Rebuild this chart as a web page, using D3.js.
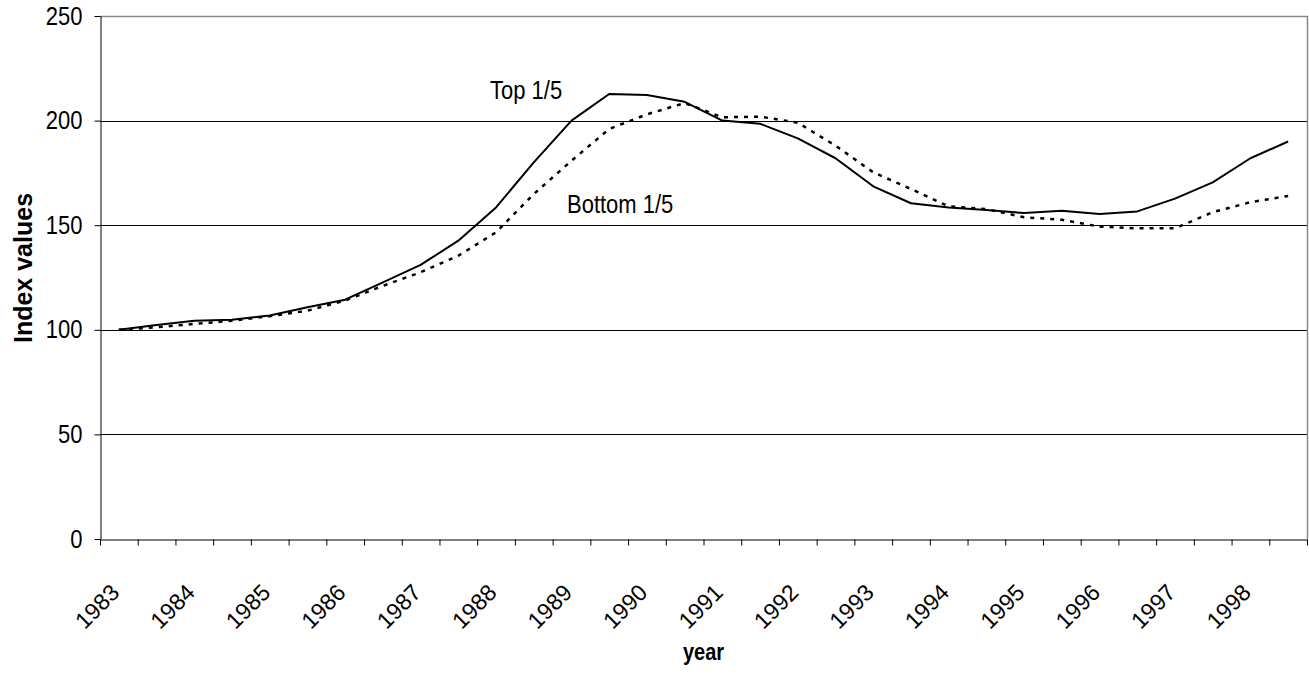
<!DOCTYPE html>
<html>
<head>
<meta charset="utf-8">
<script src="https://cdn.jsdelivr.net/npm/d3@7"></script>
<style>
  body { margin: 0; background: #fff; }
  svg { display: block; font-family: Arial, "Liberation Sans", sans-serif; }
</style>
</head>
<body>
<div id="chart"></div>
<script>
// half-year periods, one point per period
var periods = ['1983a', '1983b', '1984a', '1984b', '1985a', '1985b', '1986a', '1986b',
  '1987a', '1987b', '1988a', '1988b', '1989a', '1989b', '1990a', '1990b',
  '1991a', '1991b', '1992a', '1992b', '1993a', '1993b', '1994a', '1994b',
  '1995a', '1995b', '1996a', '1996b', '1997a', '1997b', '1998a', '1998b'];

var yearLabels = ['1983', '1984', '1985', '1986', '1987', '1988', '1989', '1990',
  '1991', '1992', '1993', '1994', '1995', '1996', '1997', '1998'];

var topFifth = [100, 102.3, 104.3, 104.8, 106.8, 110.8, 114.4, 122.7,
  131, 142.6, 158.5, 180, 200, 212.7, 212.2, 209,
  200, 198.5, 191.5, 182, 168.6, 160.5, 158.5, 157.3,
  155.8, 156.9, 155.4, 156.6, 162.7, 170.5, 182, 190];

var bottomFifth = [100, 101.2, 102.8, 104.3, 106.5, 109.1, 114, 121,
  127.5, 135.4, 146.6, 164.9, 180.8, 196, 203, 208.4,
  201.6, 201.9, 199, 188, 175.3, 167.3, 159, 157.7,
  153.8, 152.6, 149.3, 148.5, 148.5, 156.2, 161, 164];

var yTicks = [0, 50, 100, 150, 200, 250];
var gridValues = [50, 100, 150, 200];

var width = 1309, height = 681;
var plot = {left: 100, right: 1307, top: 16, bottom: 539};
// the source picture is a little taller than wide, so text gets stretched
var stretch = 1.15;

var svg = d3.select('#chart')
  .append('svg')
  .attr('width', width)
  .attr('height', height);

var x = d3.scaleBand()
  .domain(periods)
  .range([plot.left, plot.right])
  .padding(0);

// edges of the categories, for the tick marks
var xEdge = d3.scaleLinear()
  .domain([0, periods.length])
  .range([plot.left, plot.right]);

var y = d3.scaleLinear()
  .domain([0, 250])
  .range([plot.bottom, plot.top]);

// gridlines
svg.append('g')
  .selectAll('line')
  .data(gridValues)
  .enter()
  .append('line')
  .attr('x1', plot.left)
  .attr('x2', plot.right)
  .attr('y1', function(d) { return Math.round(y(d)) + 0.5; })
  .attr('y2', function(d) { return Math.round(y(d)) + 0.5; })
  .attr('stroke', '#000')
  .attr('stroke-width', 1);

// grey frame on top and right
svg.append('path')
  .attr('d', 'M' + plot.left + ',' + (plot.top + 0.5) + 'H' + (plot.right + 0.5) + 'V' + plot.bottom)
  .attr('fill', 'none')
  .attr('stroke', '#888')
  .attr('stroke-width', 1.5);

// y axis
var yAxis = svg.append('g')
  .attr('transform', 'translate(' + (plot.left + 0.5) + ',0)')
  .call(d3.axisLeft(y).tickValues(yTicks).tickSize(6).tickPadding(12).tickSizeOuter(0));
yAxis.select('.domain').attr('stroke', '#000');
yAxis.selectAll('.tick line').attr('stroke', '#000');
yAxis.selectAll('.tick text')
  .attr('font-size', '22px')
  .attr('font-family', 'Arial, "Liberation Sans", sans-serif')
  .attr('fill', '#000')
  .attr('x', null)
  .attr('dy', null)
  .attr('transform', 'translate(-18,' + 8 + ') scale(1,' + stretch + ')');

// x axis: tick marks between categories
var xAxis = svg.append('g')
  .attr('transform', 'translate(0,' + (plot.bottom + 0.5) + ')')
  .call(d3.axisBottom(xEdge).tickValues(d3.range(periods.length + 1)).tickSize(6).tickSizeOuter(0).tickFormat(''));
xAxis.select('.domain').attr('stroke', '#000');
xAxis.selectAll('.tick line').attr('stroke', '#000');

// year labels on the first half of each year
svg.append('g')
  .selectAll('text')
  .data(yearLabels)
  .enter()
  .append('text')
  .attr('transform', function(d) {
    var cx = x(d + 'a') + x.bandwidth() / 2 + 2;
    return 'translate(' + cx + ',' + 594 + ') rotate(-45)';
  })
  .attr('text-anchor', 'end')
  .attr('font-size', '23px')
  .attr('fill', '#000')
  .text(function(d) { return d; });

var line = d3.line()
  .x(function(d, i) { return x(periods[i]) + x.bandwidth() / 2; })
  .y(function(d) { return y(d); });

svg.append('path')
  .datum(bottomFifth)
  .attr('d', line)
  .attr('fill', 'none')
  .attr('stroke', '#000')
  .attr('stroke-width', 2.5)
  .attr('stroke-dasharray', '4,6');

svg.append('path')
  .datum(topFifth)
  .attr('d', line)
  .attr('fill', 'none')
  .attr('stroke', '#000')
  .attr('stroke-width', 2)
  .attr('stroke-linejoin', 'round');

function stretchedText(tx, ty, label, size, weight, anchor) {
  return svg.append('text')
    .attr('transform', 'translate(' + tx + ',' + ty + ') scale(1,' + stretch + ')')
    .attr('text-anchor', anchor || 'start')
    .attr('font-size', size)
    .attr('font-weight', weight || 'normal')
    .attr('fill', '#000')
    .text(label);
}

// series labels
stretchedText(490, 99, 'Top 1/5', '22px');
stretchedText(567, 213, 'Bottom 1/5', '22px');

// axis titles
stretchedText((plot.left + plot.right) / 2, 660, 'year', '20px', 'bold', 'middle');

svg.append('text')
  .attr('transform', 'translate(32,' + 268 + ') rotate(-90)')
  .attr('text-anchor', 'middle')
  .attr('font-size', '25px')
  .attr('font-weight', 'bold')
  .attr('fill', '#000')
  .text('Index values');
</script>
</body>
</html>
